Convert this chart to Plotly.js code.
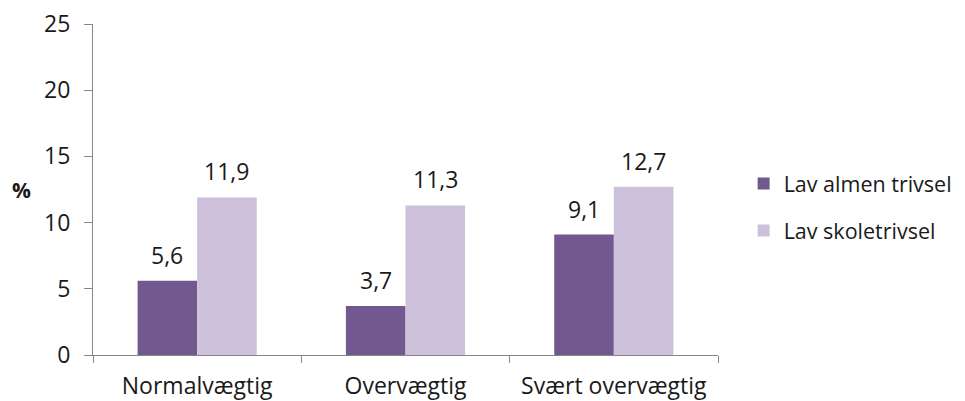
<!DOCTYPE html>
<html>
<head>
<meta charset="utf-8">
<script src="https://cdn.plot.ly/plotly-3.0.1.min.js"></script>
<style>html,body{margin:0;padding:0;background:#fff;}#chart{width:965px;height:401px;}</style>
</head>
<body>
<div id="chart"></div>
<script>
var categories = ["Normalvægtig", "Overvægtig", "Svært overvægtig"];
var seriesNames = ["Lav almen trivsel", "Lav skoletrivsel"];
var almenValues = [5.6, 3.7, 9.1];
var skoleValues = [11.9, 11.3, 12.7];
var yTicks = [0, 5, 10, 15, 20, 25];

var darkColor = "#71588F";
var lightColor = "#CCC0DA";
var textColor = "#1a1a1a";
var axisColor = "#868686";
var fontFamily = "'Open Sans', sans-serif";

function fmt(v){ return v.toFixed(1).replace('.', ','); }

var traces = [
  {type:'bar', name:seriesNames[0], x:categories, y:almenValues, marker:{color:darkColor}, legendgroup:'a', hoverinfo:'none'},
  {type:'bar', name:seriesNames[1], x:categories, y:skoleValues, marker:{color:lightColor}, legendgroup:'b', hoverinfo:'none'}
];

var plotW = 965 - 93 - 247;
var catW = plotW / categories.length;
var bargap = 0.428;
var barW = catW * (1 - bargap) / 2;

var annotations = [];
[almenValues, skoleValues].forEach(function(vals, si){
  vals.forEach(function(v, i){
    annotations.push({
      x: categories[i], y: v, xref:'x', yref:'y',
      text: fmt(v), showarrow:false,
      xshift: (si === 0 ? -1 : 1) * barW / 2,
      yanchor:'bottom', yshift: 8,
      font:{family:fontFamily, size:23, color:textColor}
    });
  });
});
annotations.push({
  text:'<b>%</b>', xref:'paper', yref:'paper', x:-0.115, y:0.498, showarrow:false,
  xanchor:'center', yanchor:'middle',
  font:{family:fontFamily, size:21, color:textColor}
});

var layout = {
  width:965, height:401,
  margin:{l:93, r:247, t:24, b:46, autoexpand:false},
  paper_bgcolor:'#fff', plot_bgcolor:'#fff',
  barmode:'group', bargap:bargap, bargroupgap:0,
  separators:',.',
  font:{family:fontFamily, size:23, color:textColor},
  xaxis:{
    type:'category', showline:true, linecolor:axisColor, linewidth:1,
    ticks:'outside', tickson:'boundaries', ticklen:7, tickcolor:axisColor,
    showgrid:false, zeroline:false, ticklabelstandoff:10, automargin:false,
    tickfont:{family:fontFamily, size:23, color:textColor}
  },
  yaxis:{
    range:[0,25], tickvals:yTicks, ticktext:yTicks.map(String),
    showline:true, linecolor:axisColor, linewidth:1,
    ticks:'outside', ticklen:8, tickcolor:axisColor,
    showgrid:false, zeroline:false, ticklabelstandoff:9, automargin:false,
    tickfont:{family:fontFamily, size:23, color:textColor}
  },
  legend:{
    x:1.041, y:0.58, xanchor:'left', yanchor:'top',
    font:{family:fontFamily, size:21.5, color:textColor},
    tracegroupgap:16, bgcolor:'rgba(0,0,0,0)'
  },
  showlegend:true,
  annotations:annotations
};

Plotly.newPlot('chart', traces, layout, {displayModeBar:false, staticPlot:true});
</script>
</body>
</html>
